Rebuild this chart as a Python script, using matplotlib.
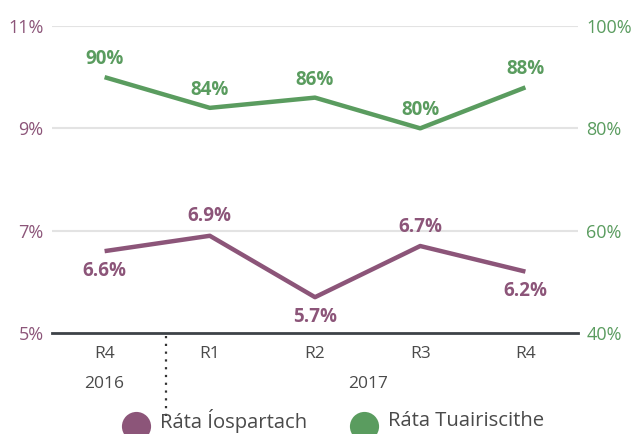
import matplotlib
matplotlib.use("Agg")
import matplotlib.pyplot as plt
from matplotlib.lines import Line2D

plt.rcParams['font.family'] = ['Open Sans', 'DejaVu Sans']

categories = ["R4", "R1", "R2", "R3", "R4"]
years = ["2016", "2017"]
victim_rate = [6.6, 6.9, 5.7, 6.7, 6.2]        # Ráta Íospartach (%)
report_rate = [90, 84, 86, 80, 88]             # Ráta Tuairiscithe (%)
victim_label_pos = ["below", "above", "below", "above", "below"]
left_ticks = [5, 7, 9, 11]
right_ticks = [40, 60, 80, 100]
legend_labels = ["Ráta Íospartach", "Ráta Tuairiscithe"]

PURPLE = "#8C5579"
GREEN = "#5A9C5F"
DARK = "#3d4247"
TXT = "#4a4a4a"

W, H = 633, 434
fig = plt.figure(figsize=(W/100, H/100), dpi=100)
ax = fig.add_axes([52/W, 1-333/H, (578-52)/W, (333-26)/H])
ax2 = ax.twinx()

x = list(range(len(categories)))
ax.set_xlim(-0.5, len(categories) - 0.5)
ax.set_ylim(5, 11)
ax2.set_ylim(40, 100)

for t in left_ticks[1:]:
    ax.axhline(t, color="#e3e3e3", lw=1.5, zorder=0)

ax.plot(x, victim_rate, color=PURPLE, lw=3.2, solid_capstyle="butt", zorder=3)
ax2.plot(x, report_rate, color=GREEN, lw=3.2, solid_capstyle="butt", zorder=3)

for xi, v, pos in zip(x, victim_rate, victim_label_pos):
    dy = 14 if pos == "above" else -14
    ax.annotate(f"{v:.1f}%", (xi, v), xytext=(0, dy), textcoords="offset points",
                ha="center", va="center", color=PURPLE, fontsize=13.5, fontweight="bold")
for xi, v in zip(x, report_rate):
    ax2.annotate(f"{v}%", (xi, v), xytext=(0, 13), textcoords="offset points",
                 ha="center", va="center", color=GREEN, fontsize=13.5, fontweight="bold")

for a in (ax, ax2):
    for s in a.spines.values():
        s.set_visible(False)
ax.spines["bottom"].set_visible(True)
ax.spines["bottom"].set_color(DARK)
ax.spines["bottom"].set_linewidth(2)

ax.set_yticks(left_ticks)
ax.set_yticklabels([f"{t}%" for t in left_ticks])
ax.tick_params(axis="y", length=0, pad=6, labelcolor=PURPLE, labelsize=13)
ax2.set_yticks(right_ticks)
ax2.set_yticklabels([f"{t}%" for t in right_ticks])
ax2.tick_params(axis="y", length=0, pad=6, labelcolor=GREEN, labelsize=13)

ax.set_xticks(x)
ax.set_xticklabels(categories)
ax.tick_params(axis="x", length=0, pad=9, labelcolor=TXT, labelsize=12.5)

# year labels
ax.annotate(years[0], (0, 5), xytext=(0, -37), textcoords="offset points",
            ha="center", va="center", color=TXT, fontsize=12.5, annotation_clip=False)
ax.annotate(years[1], (2.5, 5), xytext=(0, -37), textcoords="offset points",
            ha="center", va="center", color=TXT, fontsize=12.5, annotation_clip=False)

# dotted separator
sep = Line2D([166/W, 166/W], [1-336/H, 1-421/H], transform=fig.transFigure,
             color="#333333", lw=1.6, ls=(0, (1, 2.5)))
fig.add_artist(sep)

# legend
for cx, tx, col, lab in [(136, 160, PURPLE, legend_labels[0]),
                         (364, 388, GREEN, legend_labels[1])]:
    fig.add_artist(Line2D([cx/W], [1-426/H], transform=fig.transFigure, marker="o",
                          ls="none", markersize=21, color=col, markeredgewidth=0))
    fig.text(tx/W, 1-421/H, lab, ha="left", va="center", color=TXT, fontsize=14.6)

fig.savefig("out.png", dpi=100)
